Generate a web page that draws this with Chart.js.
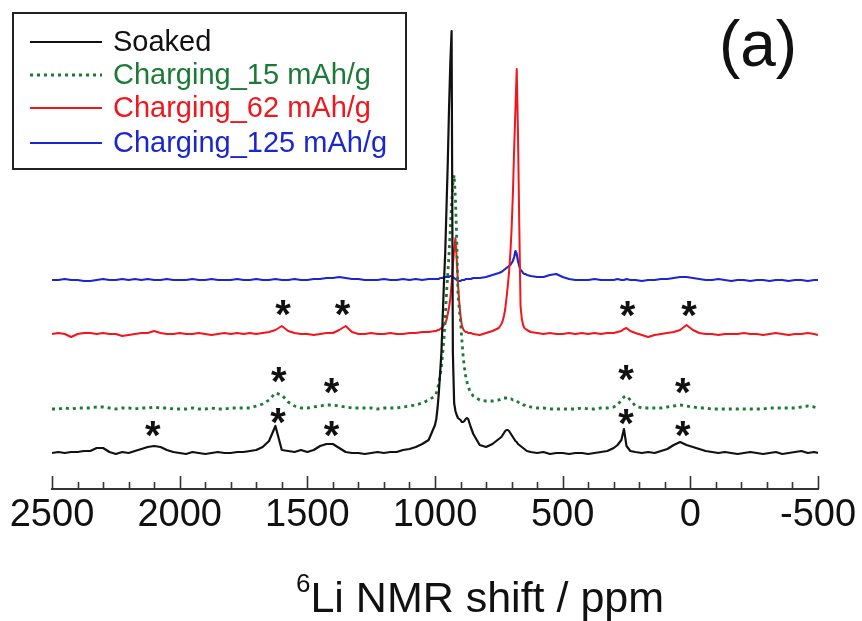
<!DOCTYPE html>
<html>
<head>
<meta charset="utf-8">
<script src="https://cdn.jsdelivr.net/npm/chart.js@4.4.1/dist/chart.umd.min.js"></script>
<style>
  html, body { margin: 0; padding: 0; background: #fff; }
  #wrap { position: relative; width: 862px; height: 621px; }
</style>
</head>
<body>
<div id="wrap"><canvas id="nmr"></canvas></div>
<script>
// chemical shift grid (ppm), denser around the sharp peaks
const ppm = [
  2500, 2475, 2450, 2425, 2400, 2375, 2350, 2325, 2300, 2275,
  2250, 2225, 2200, 2175, 2150, 2125, 2100, 2075, 2050, 2025,
  2000, 1975, 1950, 1925, 1900, 1875, 1850, 1825, 1800, 1775,
  1750, 1725, 1700, 1675, 1650, 1625, 1600, 1575, 1550, 1525,
  1500, 1475, 1450, 1425, 1400, 1375, 1350, 1325, 1300, 1275,
  1250, 1225, 1200, 1175, 1150, 1125, 1100, 1075, 1050, 1025,
  1000, 995, 990, 985, 980, 975, 970, 965, 960, 955,
  950, 945, 940, 935, 930, 925, 920, 915, 910, 905,
  900, 895, 890, 885, 880, 875, 870, 865, 860, 850,
  825, 800, 775, 750, 740, 735, 730, 725, 720, 715,
  710, 705, 700, 695, 690, 685, 680, 675, 670, 665,
  660, 655, 650, 645, 640, 625, 600, 575, 550, 525,
  500, 475, 450, 425, 400, 375, 350, 325, 300, 285,
  270, 260, 250, 235, 215, 190, 165, 140, 115, 90,
  65, 40, 15, -10, -35, -60, -85, -110, -135, -160,
  -185, -210, -235, -260, -285, -310, -335, -360, -385, -410,
  -435, -460, -485, -500
];

// intensities above each trace's own baseline (arbitrary units)
const soaked = [
  0, 1, 0, 1, 1, 2, 2, 5, 5, 1,
  -1, 1, 0, 2, 4, 6, 7, 6, 3, 1,
  0, -1, 1, 0, -1, 0, 1, 0, 0, 1,
  1, 2, 3, 6, 12, 27, 3, 2, 1, 3,
  1, 3, 7, 9, 9, 5, 1, 0, 0, -1,
  0, 1, 0, 1, 1, 3, 4, 6, 9, 13,
  28, 34, 45, 60, 80, 100, 135, 170, 200, 245,
  290, 345, 390, 422, 100, 50, 42, 38, 35, 34,
  33, 31, 31, 32, 34, 35, 34, 30, 26, 19,
  8, 6, 9, 14, 16, 18, 20, 22, 23, 23,
  22, 20, 18, 16, 14, 12, 11, 9, 8, 7,
  6, 5, 4, 3, 2, 1, 0, 1, -1, 0,
  0, -1, 0, 0, -1, 0, 1, 2, 5, 8,
  13, 24, 7, 2, 1, 0, 1, 0, 2, 4,
  8, 11, 8, 6, 4, 2, 1, 0, 1, 0,
  -1, 0, 1, 0, -1, 0, 1, -1, 0, 1,
  2, 0, 1, 0
];
const charging15 = [
  0, 0, 1, 0, 1, 1, 1, 2, 2, 1,
  0, 1, 1, 0, 1, 1, 2, 1, 1, 0,
  0, 0, 1, 0, 0, 1, 0, 0, 1, 1,
  1, 1, 3, 5, 9, 16, 14, 7, 3, 1,
  1, 2, 3, 4, 4, 3, 2, 1, 1, 1,
  1, 0, 1, 1, 1, 2, 3, 4, 6, 9,
  13, 16, 20, 26, 33, 42, 55, 70, 90, 115,
  135, 155, 180, 205, 225, 234, 210, 170, 115, 100,
  88, 70, 53, 42, 33, 27, 23, 19, 16, 13,
  9, 8, 8, 9, 10, 10, 11, 11, 11, 11,
  11, 10, 10, 9, 9, 8, 8, 7, 6, 5,
  5, 4, 4, 3, 3, 2, 1, 1, 0, 0,
  0, 0, 0, 1, 0, 0, 1, 1, 2, 4,
  9, 12, 13, 9, 3, 1, 1, 1, 1, 2,
  3, 4, 3, 2, 1, 1, 0, 0, 0, 0,
  0, 0, 0, 0, 0, 1, 1, 1, 1, 1,
  2, 3, 2, 1
];
const charging62 = [
  0, 1, 0, -3, 0, 1, 1, 0, 1, 0,
  0, -2, -1, 0, 1, 1, 3, 1, 0, 0,
  1, 0, 0, 1, 0, -1, 0, 1, 0, 1,
  0, 1, 0, 1, 2, 4, 8, 3, 1, 0,
  0, -1, 0, 1, 1, 4, 8, 2, 0, 0,
  1, 0, 0, 1, 0, 0, 1, 1, 2, 2,
  3, 3, 4, 4, 5, 6, 7, 9, 11, 14,
  20, 27, 35, 50, 68, 85, 96, 75, 50, 32,
  18, 9, 5, 3, 2, 2, 1, 1, 1, 0,
  -1, 1, 3, 6, 10, 13, 18, 25, 36, 48,
  62, 80, 105, 140, 185, 225, 265, 201, 110, 28,
  15, 9, 6, 5, 4, 2, 1, 0, 1, 0,
  0, 1, 0, 1, 0, 1, 0, 1, 1, 2,
  3, 5, 6, 3, 1, -1, -3, -1, 0, 1,
  2, 4, 9, 4, 1, 0, 0, -1, 0, 0,
  0, 1, 0, 0, -1, 0, 1, 0, -1, 0,
  0, 1, 0, -1
];
const charging125 = [
  0, 0, 1, 0, 0, -1, -1, 0, 1, 0,
  0, 1, 0, 1, 0, 1, 0, 0, 1, 0,
  0, 0, 1, 0, 0, 1, 0, 0, 0, 1,
  0, 0, 1, 0, 0, 1, 0, 0, 1, 0,
  0, 1, 1, 2, 2, 3, 2, 1, 1, 0,
  0, 0, 1, 0, 0, 1, 0, 1, 0, 1,
  1, 1, 1, 1, 2, 2, 2, 3, 3, 3,
  3, 3, 4, 4, 3, 2, 1, 0, -1, -1,
  -1, 0, 0, 0, 1, 1, 1, 1, 1, 2,
  2, 3, 5, 7, 8, 9, 10, 11, 12, 13,
  14, 15, 17, 19, 23, 29, 26, 19, 14, 10,
  9, 7, 6, 6, 5, 4, 3, 3, 5, 6,
  3, 1, 0, 0, 0, 1, 0, 0, 0, 1,
  0, 0, 1, 0, 0, -1, 0, 0, 1, 1,
  2, 3, 3, 2, 1, 0, 0, 1, 0, -1,
  0, 0, -1, 0, 0, -1, 0, 0, -1, 0,
  0, -1, 0, 0
];

const seriesNames = ["Soaked", "Charging_15 mAh/g", "Charging_62 mAh/g", "Charging_125 mAh/g"];
const seriesValues = [soaked, charging15, charging62, charging125];
const seriesColors = ["#111111", "#1c7a37", "#f2161c", "#1a26cf"];
const baselineOffsets = [36, 80, 155, 209];   // vertical stacking of the spectra
const xTickLabels = [2500, 2000, 1500, 1000, 500, 0, -500];

// asterisks (spinning sidebands): position in ppm and height on the stacked scale
const starPpm   = [2105, 1615, 1405, 252, 30,   1612, 1405, 252, 30,   1595, 1362, 246, 5];
const starLevel = [59, 72, 59, 71, 59,          113, 102, 115, 102,    180, 180, 179, 179];

const FONT = "'Liberation Sans', Arial, Helvetica, sans-serif";

const datasets = seriesValues.map((vals, i) => ({
  label: seriesNames[i],
  data: ppm.map((p, j) => ({ x: p, y: baselineOffsets[i] + vals[j] })),
  borderColor: seriesColors[i],
  borderWidth: i === 1 ? 2.8 : (i === 2 ? 2 : 2.2),
  borderDash: i === 1 ? [3, 4] : [],
  pointRadius: 0,
  tension: 0,
  fill: false,
  borderJoinStyle: "round"
}));

const decor = {
  id: "decor",
  afterDraw(chart) {
    const ctx = chart.ctx;
    const xs = chart.scales.x, ys = chart.scales.y;
    const base = chart.chartArea.bottom;
    ctx.save();

    // inward tick marks: majors every 500, minors every 100
    ctx.strokeStyle = "#333";
    ctx.lineWidth = 1.6;
    for (let v = -500; v <= 2500; v += 100) {
      const px = Math.round(xs.getPixelForValue(v)) + 0.5;
      const len = v % 500 === 0 ? 13 : 7;
      ctx.beginPath();
      ctx.moveTo(px, base);
      ctx.lineTo(px, base - len);
      ctx.stroke();
    }

    // asterisks
    ctx.fillStyle = "#111";
    ctx.font = "bold 40px " + FONT;
    ctx.textAlign = "center";
    ctx.textBaseline = "alphabetic";
    starPpm.forEach((p, i) => {
      ctx.fillText("*", xs.getPixelForValue(p), ys.getPixelForValue(starLevel[i]) + 19);
    });

    // legend box
    ctx.font = "29px " + FONT;
    ctx.strokeStyle = "#222";
    ctx.lineWidth = 2;
    ctx.strokeRect(13, 13, 393, 156);
    const rowY = [42, 75, 108, 143];
    ctx.textAlign = "left";
    seriesNames.forEach((name, i) => {
      ctx.strokeStyle = seriesColors[i];
      ctx.lineWidth = datasets[i].borderWidth;
      ctx.setLineDash(datasets[i].borderDash);
      ctx.beginPath();
      ctx.moveTo(30, rowY[i]);
      ctx.lineTo(102, rowY[i]);
      ctx.stroke();
      ctx.setLineDash([]);
      ctx.fillStyle = seriesColors[i];
      ctx.fillText(name, 113, rowY[i] + 9);
    });

    // panel label
    ctx.fillStyle = "#111";
    ctx.font = "64px " + FONT;
    ctx.textAlign = "center";
    ctx.fillText("(a)", 758, 66);

    // axis title with superscript 6
    ctx.textAlign = "left";
    ctx.font = "26px " + FONT;
    const wSup = ctx.measureText("6").width;
    ctx.font = "43px " + FONT;
    const main = "Li NMR shift / ppm";
    const wMain = ctx.measureText(main).width;
    const x0 = 480 - (wSup + wMain) / 2;
    ctx.fillText(main, x0 + wSup, 612);
    ctx.font = "26px " + FONT;
    ctx.fillText("6", x0, 592);

    ctx.restore();
  }
};

new Chart(document.getElementById("nmr"), {
  type: "line",
  data: { datasets },
  options: {
    responsive: true,
    maintainAspectRatio: false,
    animation: false,
    layout: { padding: { left: 52, right: 44, top: 10, bottom: 12 } },
    plugins: { legend: { display: false }, tooltip: { enabled: false } },
    scales: {
      x: {
        type: "linear",
        reverse: true,
        min: -500,
        max: 2500,
        afterBuildTicks: (s) => { s.ticks = xTickLabels.map(v => ({ value: v })); },
        afterFit: (s) => { s.height = 120; },
        grid: { display: false, drawTicks: false },
        border: { display: true, color: "#333", width: 2 },
        ticks: {
          padding: 4,
          color: "#111",
          maxRotation: 0,
          autoSkip: false,
          font: { size: 38, family: FONT },
          callback: (v) => String(v)
        }
      },
      y: { display: false, min: 0, max: 479 }
    }
  },
  plugins: [decor]
});
</script>
</body>
</html>
